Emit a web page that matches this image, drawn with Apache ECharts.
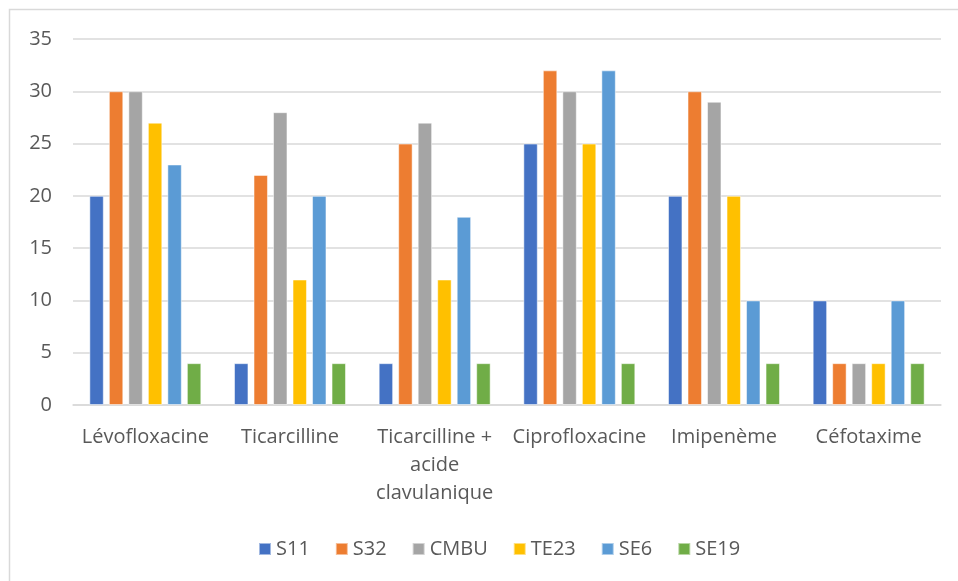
<!DOCTYPE html>
<html>
<head>
<meta charset="utf-8">
<script src="https://cdn.jsdelivr.net/npm/echarts@6/dist/echarts.min.js"></script>
<style>
  html, body { margin: 0; padding: 0; background: #fff; }
  #chart { width: 958px; height: 581px; }
</style>
</head>
<body>
<div id="chart"></div>
<script>
// Antibiotics tested (x categories)
const categories = ['Lévofloxacine', 'Ticarcilline', 'Ticarcilline +\nacide\nclavulanique', 'Ciprofloxacine', 'Imipenème', 'Céfotaxime'];

// Values per strain
const s11  = [20, 4, 4, 25, 20, 10];
const s32  = [30, 22, 25, 32, 30, 4];
const cmbu = [30, 28, 27, 30, 29, 4];
const te23 = [27, 12, 12, 25, 20, 4];
const se6  = [23, 20, 18, 32, 10, 10];
const se19 = [4, 4, 4, 4, 4, 4];

const seriesNames = ['S11', 'S32', 'CMBU', 'TE23', 'SE6', 'SE19'];
const seriesData = [s11, s32, cmbu, te23, se6, se19];
const colors = ['#4472C4', '#ED7D31', '#A5A5A5', '#FFC000', '#5B9BD5', '#70AD47'];

const yTicks = { min: 0, max: 35, interval: 5 };

const font = "'Open Sans', 'Liberation Sans', sans-serif";
const chart = echarts.init(document.getElementById('chart'));

chart.setOption({
  animation: false,
  color: colors,
  textStyle: { fontFamily: font },
  graphic: [{
    type: 'polyline',
    shape: { points: [[9.5, 581], [9.5, 9.5], [958, 9.5]] },
    style: { stroke: '#d9d9d9', lineWidth: 1.5, fill: null }
  }],
  grid: { left: 73, right: 17, top: 39, bottom: 176, containLabel: false },
  legend: {
    bottom: 17,
    left: 253,
    itemWidth: 12,
    itemHeight: 12,
    itemGap: 25,
    icon: 'rect',
    textStyle: { color: '#595959', fontSize: 20, fontFamily: font, padding: [0, 0, 0, 0] },
    data: seriesNames
  },
  xAxis: {
    type: 'category',
    data: categories,
    axisLine: { lineStyle: { color: '#d9d9d9', width: 1.5 } },
    axisTick: { show: false },
    axisLabel: { color: '#595959', fontSize: 20, margin: 18, lineHeight: 28, interval: 0 }
  },
  yAxis: {
    type: 'value',
    min: yTicks.min, max: yTicks.max, interval: yTicks.interval,
    axisLine: { show: false },
    axisTick: { show: false },
    axisLabel: { color: '#595959', fontSize: 20, margin: 21 },
    splitLine: { lineStyle: { color: '#d9d9d9', width: 1.5 } }
  },
  series: seriesNames.map((name, i) => ({
    name,
    type: 'bar',
    data: seriesData[i],
    barGap: '35%',
    barCategoryGap: '22.6%',
    itemStyle: { color: colors[i], borderColor: 'rgba(255,255,255,0.5)', borderWidth: 1 }
  }))
});
</script>
</body>
</html>
